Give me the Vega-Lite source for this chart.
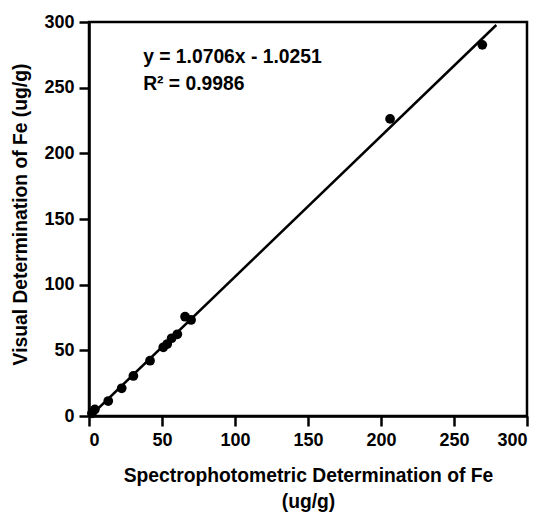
{
  "$schema": "https://vega.github.io/schema/vega-lite/v6.json",
  "width": 438,
  "height": 394,
  "autosize": "none",
  "padding": {"left": 89, "top": 22, "right": 19, "bottom": 96},
  "background": "white",
  "config": {
    "view": {"stroke": "black", "strokeWidth": 2.5},
    "font": "Liberation Sans",
    "axis": {
      "domainColor": "black", "domainWidth": 2.5,
      "tickColor": "black", "tickWidth": 2.5, "tickSize": 10,
      "labelFont": "Liberation Sans", "labelFontWeight": "bold", "labelFontSize": 18, "labelColor": "black",
      "titleFont": "Liberation Sans", "titleFontWeight": "bold", "titleFontSize": 19.3, "titleColor": "black",
      "grid": false
    }
  },
  "datasets": {
    "points": [
      {"x": 2, "y": 2},
      {"x": 4, "y": 5},
      {"x": 13.2, "y": 11.4},
      {"x": 22.4, "y": 21.1},
      {"x": 30.4, "y": 30.5},
      {"x": 41.8, "y": 42.1},
      {"x": 50.9, "y": 52.3},
      {"x": 53.6, "y": 54.8},
      {"x": 56.6, "y": 59.2},
      {"x": 60.5, "y": 62.2},
      {"x": 65.8, "y": 75.6},
      {"x": 69.9, "y": 73.1},
      {"x": 206.2, "y": 226.2},
      {"x": 269.4, "y": 282.6}
    ],
    "fit": [
      {"x": 0.96, "y": 0},
      {"x": 279, "y": 297.7}
    ],
    "labels": [
      {"x": 37.1, "y": 268.8, "t": "y = 1.0706x - 1.0251"},
      {"x": 37.1, "y": 248.3, "t": "R² = 0.9986"}
    ]
  },
  "layer": [
    {
      "data": {"name": "fit"},
      "mark": {"type": "line", "color": "black", "strokeWidth": 2.5, "clip": true},
      "encoding": {
        "x": {"field": "x", "type": "quantitative", "scale": {"domain": [0, 300]},
          "axis": {"values": [0, 50, 100, 150, 200, 250, 300], "labelPadding": 5, "title": ["Spectrophotometric Determination of Fe", "(ug/g)"], "titlePadding": 17, "titleLineHeight": 26}},
        "y": {"field": "y", "type": "quantitative", "scale": {"domain": [0, 300]},
          "axis": {"values": [0, 50, 100, 150, 200, 250, 300], "labelPadding": 5, "title": "Visual Determination of Fe (ug/g)", "titlePadding": 13, "titleY": 192}}
      }
    },
    {
      "data": {"name": "points"},
      "mark": {"type": "circle", "color": "black", "opacity": 1, "size": 95},
      "encoding": {
        "x": {"field": "x", "type": "quantitative"},
        "y": {"field": "y", "type": "quantitative"}
      }
    },
    {
      "data": {"name": "labels"},
      "mark": {"type": "text", "align": "left", "baseline": "alphabetic", "fontSize": 19.3, "fontWeight": "bold", "color": "black", "font": "Liberation Sans"},
      "encoding": {
        "x": {"field": "x", "type": "quantitative"},
        "y": {"field": "y", "type": "quantitative"},
        "text": {"field": "t"}
      }
    }
  ]
}
